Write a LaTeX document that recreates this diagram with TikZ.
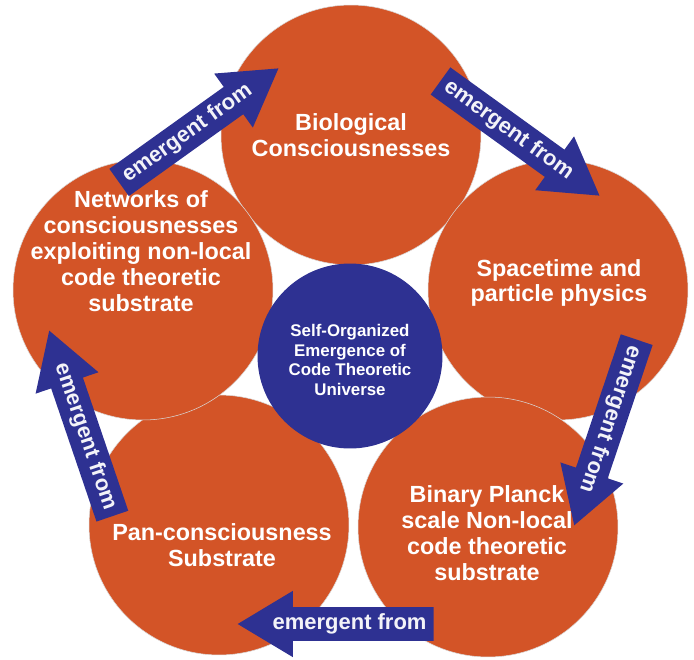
\documentclass[tikz,border=0pt]{standalone}
\usepackage{fontspec}
\setmainfont{Liberation Sans}
\usetikzlibrary{shapes.arrows}

\definecolor{petalorange}{HTML}{D35427}
\definecolor{hubblue}{HTML}{2E3192}

\begin{document}
\begin{tikzpicture}[
		x=0.02cm, y=-0.02cm,
		petal/.style={circle, fill=petalorange, draw=black!15,
			line width=0.3pt, minimum size=5.2cm, inner sep=0pt},
		hub/.style={circle, fill=hubblue, minimum size=3.7cm, inner sep=0pt},
		petaltext/.style={text=white, align=center,
			font=\fontsize{13.3}{14.7}\selectfont\bfseries},
		hubtext/.style={text=white, align=center,
			font=\fontsize{9.6}{11.3}\selectfont\bfseries},
		flow/.style={single arrow, fill=hubblue, text=white!94!hubblue,
			font=\fontsize{12.5}{14}\selectfont\bfseries,
			minimum height=3.92cm, single arrow head extend=9.35pt,
			single arrow tip angle=62, inner xsep=0pt, inner ysep=3.6pt,
			text height=9pt, text depth=2.5pt, anchor=tip},
		]
		
		\useasboundingbox (0,0) rectangle (694,660);
		
		% the five circles round the hub
		\node[petal] (bio) at (351,135) {};
		\node[petal] (space) at (558,290) {};
		\node[petal] (planck) at (488,527) {};
		\node[petal] (pan) at (219,525) {};
		\node[petal] (net) at (143,290) {};
		\node[hub] (hub) at (350,356) {};
		
		\node[petaltext] (bioText) at (351,135) {Biological\\Consciousnesses};
		\node[petaltext] (spaceText) at (559,283) {Spacetime and\\particle physics};
		\node[petaltext] (planckText) at (487,533)
		{Binary Planck\\scale Non-local\\code theoretic\\substrate};
		\node[petaltext] (panText) at (222,545) {Pan-consciousness\\Substrate};
		\node[petaltext] (netText) at (141,251)
		{Networks of\\consciousnesses\\exploiting non-local\\code theoretic\\substrate};
		\node[hubtext] (hubText) at (350,360)
		{Self-Organized\\Emergence of\\Code Theoretic\\Universe};
		
		% block arrows, placed by their tips
		\node[flow, rotate=35.6] (netToBio) at (279,68) {emergent from};
		\node[flow, rotate=-35.8] (bioToSpace) at (600,196) {emergent from};
		\node[flow, rotate=-108.6] (spaceToPlanck) at (574,526) {emergent from};
		\node[flow, shape border rotate=180] (planckToPan) at (237,624) {emergent from};
		\node[flow, rotate=-71.2, shape border rotate=180] (panToNet) at (49,330) {emergent from};
		
	\end{tikzpicture}
\end{document}
